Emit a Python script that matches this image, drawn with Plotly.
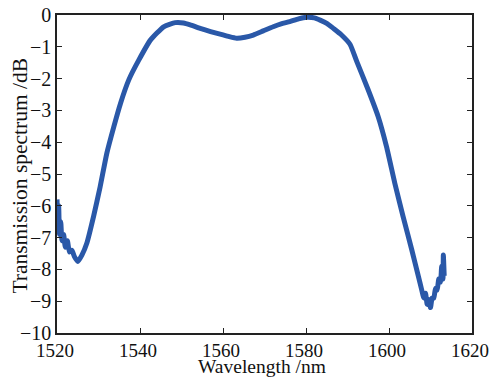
import plotly.graph_objects as go

wavelength_nm = [1520.0, 1520.2, 1520.4, 1520.6, 1520.9, 1521.2, 1521.6, 1522.0, 1522.5, 1523.0,
                 1523.6, 1524.2, 1525.0, 1526.0, 1527.2, 1528.8, 1530.4, 1532.0, 1533.7, 1535.3,
                 1537.3, 1539.7, 1542.5, 1545.7, 1548.5, 1550.5, 1552.1, 1554.5, 1557.0, 1559.3,
                 1561.5, 1563.3, 1565.3, 1567.3, 1569.7, 1572.1, 1574.0, 1576.1, 1578.2, 1580.2,
                 1582.0, 1583.4, 1585.0, 1586.6, 1588.5, 1590.6, 1592.2, 1595.0, 1597.4, 1599.4,
                 1601.4, 1603.4, 1605.5, 1607.1, 1607.8, 1608.4, 1608.8, 1609.2, 1609.6, 1610.0,
                 1610.4, 1610.8, 1611.2, 1611.6, 1612.0, 1612.4, 1612.7, 1613.0, 1613.1, 1613.3]
transmission_db = [-5.8, -6.6, -6.0, -6.9, -6.5, -7.1, -6.9, -7.3, -7.1, -7.45,
                   -7.4, -7.6, -7.75, -7.55, -7.17, -6.34, -5.4, -4.35, -3.51, -2.78,
                   -2.04, -1.42, -0.79, -0.37, -0.24, -0.25, -0.31, -0.42, -0.52, -0.60,
                   -0.68, -0.73, -0.70, -0.63, -0.50, -0.37, -0.28, -0.21, -0.12, -0.07,
                   -0.09, -0.16, -0.26, -0.42, -0.62, -0.92, -1.45, -2.36, -3.2, -4.14,
                   -5.29, -6.34, -7.39, -8.23, -8.6, -8.9, -8.75, -9.1, -8.95, -9.2,
                   -8.9, -8.9, -8.6, -8.65, -8.3, -8.4, -7.9, -8.3, -7.55, -8.2]

x_ticks = [1520, 1540, 1560, 1580, 1600, 1620]
y_ticks = [0, -1, -2, -3, -4, -5, -6, -7, -8, -9, -10]
x_title = "Wavelength /nm"
y_title = "Transmission spectrum /dB"

font_family = "Liberation Serif"
W, H = 489, 378
M = dict(l=57, r=17, t=15, b=45)
plot_w = W - M["l"] - M["r"]
plot_h = H - M["t"] - M["b"]

fig = go.Figure()
fig.add_trace(go.Scatter(
    x=wavelength_nm, y=transmission_db, mode="lines",
    line=dict(color="#2a58a8", width=5, shape="spline", smoothing=0.5), showlegend=False,
))

axis_common = dict(
    showgrid=False, zeroline=False, showline=True, linecolor="#222222", linewidth=1.5,
    mirror="ticks", ticks="inside", ticklen=5, tickcolor="#222222", tickwidth=1,
    ticklabeloverflow="allow", automargin=False,
)

fig.update_layout(
    width=W, height=H,
    margin=M,
    paper_bgcolor="white", plot_bgcolor="white",
    xaxis=dict(range=[1520, 1620], tickvals=x_ticks, ticklabelshift=-2, ticklabelstandoff=-1,
               tickfont=dict(family=font_family, size=19, color="#111111"),
               **axis_common),
    yaxis=dict(range=[-10, 0], tickvals=y_ticks, ticklabelstandoff=0,
               tickfont=dict(family=font_family, size=20, color="#111111"),
               **axis_common),
)

# axis titles placed as annotations for exact positioning
fig.add_annotation(
    text=x_title, xref="paper", yref="paper", x=0.495, y=-(H - M["t"] - plot_h) / plot_h,
    xanchor="center", yanchor="bottom", showarrow=False, borderpad=0,
    font=dict(family=font_family, size=19.5, color="#111111"),
)
fig.add_annotation(
    text=y_title, xref="paper", yref="paper", x=(20 - M["l"]) / plot_w, y=0.495,
    xanchor="center", yanchor="middle", textangle=-90, showarrow=False,
    font=dict(family=font_family, size=21.5, color="#111111"),
)

fig.write_html("out.html")
